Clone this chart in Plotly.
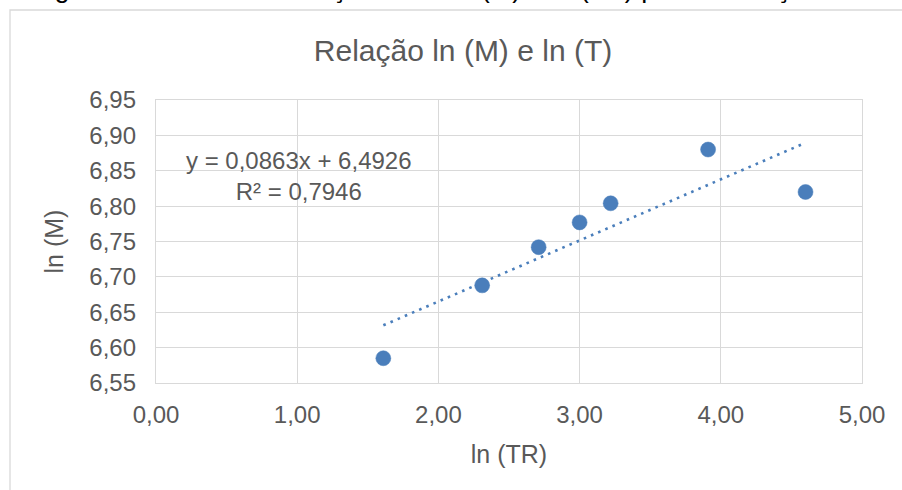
import plotly.graph_objects as go

# ---- data ----
ln_tr = [1.61, 2.31, 2.71, 3.00, 3.22, 3.91, 4.60]
ln_m = [6.585, 6.688, 6.742, 6.777, 6.804, 6.880, 6.820]
slope = 0.0863
intercept = 6.4926
r2 = 0.7946
x_ticks = [0, 1, 2, 3, 4, 5]
y_ticks = [6.55, 6.60, 6.65, 6.70, 6.75, 6.80, 6.85, 6.90, 6.95]

W, H = 902, 490
L, R, T, B = 156, 40, 100, 107
PW, PH = W - L - R, H - T - B

def px_x(px):
    return (px - L) / PW

def px_y(py):
    return (H - B - py) / PH

blue = "#4a7ebb"
grey_txt = "#595959"
grid = "#d9d9d9"
font = "Liberation Sans"

fig = go.Figure()

trend_x = [min(ln_tr), max(ln_tr)]
trend_y = [slope * v + intercept for v in trend_x]
fig.add_trace(go.Scatter(
    x=trend_x, y=trend_y, mode="lines",
    line=dict(color=blue, width=2.6, dash="2.6px,5.2px"),
    hoverinfo="skip", showlegend=False))

fig.add_trace(go.Scatter(
    x=ln_tr, y=ln_m, mode="markers",
    marker=dict(color=blue, size=15, line=dict(color=blue, width=0.5)),
    showlegend=False))

def fmt(v):
    return f"{v:.4f}".replace(".", ",")

fig.add_annotation(
    text=f"y = {fmt(slope)}x + {fmt(intercept)}<br>R² = {fmt(r2)}",
    xref="paper", yref="paper", x=px_x(299), y=px_y(175.5),
    xanchor="center", yanchor="middle", align="center", showarrow=False,
    font=dict(family=font, size=24, color=grey_txt))

# caption of the document, cut off at the top of the picture
fig.add_annotation(
    text="Figura 5 - Gráfico da relação entre ln (M) e ln (TR) para a estação de",
    xref="paper", yref="paper", x=px_x(30), y=px_y(5.5),
    xanchor="left", yanchor="bottom", showarrow=False,
    font=dict(family=font, size=27, color="#000000"))

# outer chart border (open at the bottom/right of the crop)
fig.add_shape(type="rect", xref="paper", yref="paper",
              x0=px_x(10), x1=px_x(910), y0=px_y(520), y1=px_y(10),
              line=dict(color=grid, width=1.3), fillcolor="rgba(0,0,0,0)", layer="below")

axis_common = dict(
    showgrid=True, gridcolor=grid, gridwidth=1.3,
    showline=True, linecolor=grid, linewidth=1.3, mirror=True,
    zeroline=False, ticks="", tickformat=".2f",
    tickfont=dict(family=font, size=24, color=grey_txt),
)

fig.update_layout(
    width=W, height=H,
    margin=dict(l=L, r=R, t=T, b=B),
    paper_bgcolor="white", plot_bgcolor="white",
    separators=",.",
    title=dict(text="Relação ln (M) e ln (T)", x=463 / W, y=1 - 50 / H,
               xanchor="center", yanchor="middle",
               font=dict(family=font, size=30, color=grey_txt)),
    xaxis=dict(range=[0, 5], tickvals=x_ticks, ticklabelstandoff=10,
               title=dict(text="ln (TR)", standoff=18,
                          font=dict(family=font, size=25, color=grey_txt)),
               **axis_common),
    yaxis=dict(range=[6.55, 6.95], tickvals=y_ticks, ticklabelstandoff=14,
               title=dict(text="ln (M)", standoff=18,
                          font=dict(family=font, size=25, color=grey_txt)),
               **axis_common),
)

fig.write_html("out.html",
               config={"displayModeBar": False},
               post_script="document.body.style.margin='0';document.body.style.overflow='hidden';")
